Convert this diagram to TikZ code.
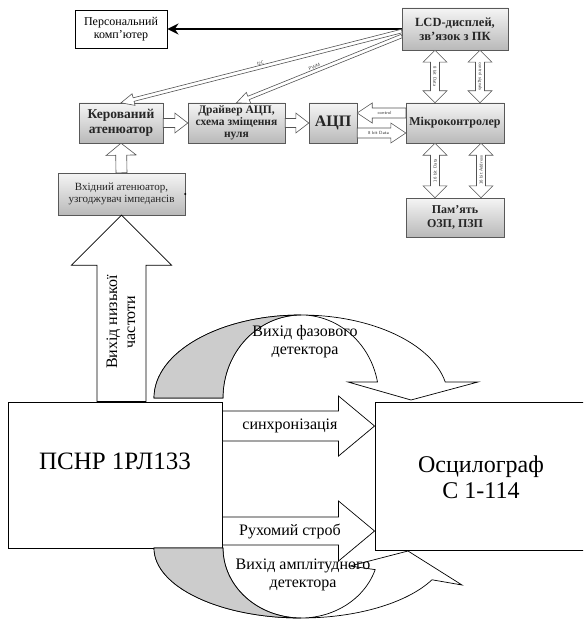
\documentclass[tikz,border=0pt]{standalone}
\usepackage{fontspec}
\setmainfont{Liberation Serif}
\usetikzlibrary{calc, arrows.meta}
\tikzset{
  blok/.style={draw=gray!70!black, top color=gray!8, bottom color=gray!55,
    align=center, inner sep=0pt, text=black!85, font=\bfseries},
  wblok/.style={draw, fill=white, align=center, inner sep=0pt, line width=0.9pt},
  hol/.style={draw=gray!65!black, fill=white, line width=0.6pt},
  bighol/.style={draw, fill=white, line width=0.7pt},
  curv/.style={draw, fill=white, line width=0.7pt},
  tinylbl/.style={font=\fontsize{4.5}{5}\selectfont\sffamily, inner sep=0pt, text=black!80},
  biglbl/.style={font=\fontsize{16}{18}\selectfont, inner sep=0pt, align=center},
}
% hollow arrow: [style]{from}{to}{shaft half width}{head half width}{head length}
\newcommand{\hollowarrow}[6][]{%
  \coordinate (hb) at ($(#3)!#6!(#2)$);
  \draw[#1] ($(#2)!#4!90:(#3)$) -- ($(hb)!#4!90:(#3)$) -- ($(hb)!#5!90:(#3)$) -- (#3)
    -- ($(hb)!#5!-90:(#3)$) -- ($(hb)!#4!-90:(#3)$) -- ($(#2)!#4!-90:(#3)$) -- cycle;}
% same, with a head at both ends
\newcommand{\hollowbiarrow}[6][]{%
  \coordinate (ha) at ($(#2)!#6!(#3)$);
  \coordinate (hb) at ($(#3)!#6!(#2)$);
  \draw[#1] (#2) -- ($(ha)!#5!90:(#3)$) -- ($(ha)!#4!90:(#3)$) -- ($(hb)!#4!90:(#3)$)
    -- ($(hb)!#5!90:(#3)$) -- (#3) -- ($(hb)!#5!-90:(#3)$) -- ($(hb)!#4!-90:(#3)$)
    -- ($(ha)!#4!-90:(#3)$) -- ($(ha)!#5!-90:(#3)$) -- cycle;}

\begin{document}
\begin{tikzpicture}[x=1pt, y=-1pt]
    \useasboundingbox (0,0) rectangle (583,623);
    \clip (0,0) rectangle (583,623);

    % Upper block diagram
    \node[wblok, minimum width=92pt, minimum height=38pt, font=\fontsize{12}{13}\selectfont] (pc) at (121,29) {Персональний\\комп'ютер};
    \node[blok, minimum width=106pt, minimum height=42pt, font=\bfseries\fontsize{12.5}{14}\selectfont] (lcd) at (455,29) {LCD-дисплей,\\зв'язок з ПК};
    \node[blok, minimum width=84pt, minimum height=40pt, font=\bfseries\fontsize{13.5}{15}\selectfont] (ker) at (121,123) {Керований\\атенюатор};
    \node[blok, minimum width=97pt, minimum height=40pt, font=\bfseries\fontsize{11.5}{11.8}\selectfont] (drv) at (236.5,123) {Драйвер АЦП,\\схема зміщення\\нуля};
    \node[blok, minimum width=48pt, minimum height=40pt, font=\bfseries\fontsize{16}{18}\selectfont] (adc) at (333,123) {АЦП};
    \node[blok, minimum width=98pt, minimum height=40pt, font=\bfseries\fontsize{12}{13}\selectfont] (mcu) at (455,123) {Мікроконтролер};
    \node[blok, minimum width=98pt, minimum height=39pt, font=\bfseries\fontsize{12}{13.5}\selectfont] (mem) at (455,217.5) {Пам'ять\\ОЗП, ПЗП};
    \node[blok, minimum width=127pt, minimum height=42pt, font=\fontsize{11}{12}\selectfont] (inp) at (121.5,194) {Вхідний атенюатор,\\узгоджувач імпедансів};
    \fill (inp.east) circle[radius=1.1pt];

    % PC link
    \draw[line width=2.6pt, -{Stealth[length=11pt, width=11pt]}] (lcd.west) -- (pc.east);

    % I2C and PWM lines
    \coordinate (i2cs) at ([yshift=-2pt]lcd.west);
    \coordinate (pwms) at ([yshift=-7pt]lcd.west);
    \hollowarrow[hol]{i2cs}{ker.north}{1.8pt}{6pt}{13pt}
    \hollowarrow[hol]{pwms}{drv.north}{1.8pt}{6pt}{13pt}
    \node[tinylbl, rotate=14.3, yshift=4pt] (i2c) at ($(i2cs)!0.5!(ker.north)$) {I2C};
    \node[tinylbl, rotate=21.9, yshift=4pt] (pwm) at ($(pwms)!0.52!(drv.north)$) {PWM};

    % Signal path
    \hollowarrow[hol]{ker.east}{drv.west}{4.5pt}{10pt}{13pt}
    \hollowarrow[hol]{drv.east}{adc.west}{4.5pt}{10pt}{13pt}
    \hollowarrow[hol]{inp.north}{ker.south}{5.5pt}{15pt}{12pt}
    \coordinate (ctls) at ([yshift=10pt]mcu.west);
    \coordinate (dats) at ([yshift=-10pt]adc.east);
    \hollowarrow[hol]{ctls}{ctls -| adc.east}{5pt}{10pt}{15pt}
    \hollowarrow[hol]{dats}{dats -| mcu.west}{5pt}{10pt}{15pt}
    \node[tinylbl] (ctl) at ($(ctls)!0.5!(ctls -| adc.east)+(3,0)$) {control};
    \node[tinylbl] (dat) at ($(dats)!0.5!(dats -| mcu.west)+(-3,0)$) {8 bit Data};

    % Buses
    \coordinate (b1) at ([xshift=-20pt]lcd.south);
    \coordinate (b2) at ([xshift=25pt]lcd.south);
    \coordinate (b3) at ([xshift=-20pt]mcu.south);
    \coordinate (b4) at ([xshift=26pt]mcu.south);
    \hollowbiarrow[hol]{b1}{b1 |- mcu.north}{4.5pt}{12pt}{12pt}
    \hollowbiarrow[hol]{b2}{b2 |- mcu.north}{4.5pt}{12pt}{12pt}
    \hollowbiarrow[hol]{b3}{b3 |- mem.north}{4.5pt}{12pt}{12pt}
    \hollowbiarrow[hol]{b4}{b4 |- mem.north}{4.5pt}{12pt}{12pt}
    \node[tinylbl, rotate=-90] (bl1) at ($(b1)!0.5!(b1 |- mcu.north)$) {8 bit Data};
    \node[tinylbl, rotate=-90] (bl2) at ($(b2)!0.5!(b2 |- mcu.north)$) {control signals};
    \node[tinylbl, rotate=90] (bl3) at ($(b3)!0.5!(b3 |- mem.north)$) {16 bit Data};
    \node[tinylbl, rotate=90] (bl4) at ($(b4)!0.5!(b4 |- mem.north)$) {16 bit Address};

    % Lower diagram
    \node[wblok, minimum width=214pt, minimum height=146pt] (psnr) at (115,475) {};
    \node[wblok, minimum width=210pt, minimum height=148pt] (osc) at (480,476) {};
    \node[inner sep=0pt, font=\fontsize{25}{26}\selectfont] (psnrt) at (115,461) {ПСНР 1РЛ133};
    \node[inner sep=0pt, align=center, font=\fontsize{24}{26}\selectfont] (osct) at (481,477) {Осцилограф\\С 1-114};

    \hollowarrow[bighol]{inp.south |- psnr.north}{inp.south}{24.5pt}{50pt}{50pt}
    \node[biglbl, rotate=90] (lf) at (121,322) {Вихід  низької\\частоти};

    \coordinate (s1) at ([yshift=49pt]psnr.east);
    \coordinate (s2) at ([yshift=-56pt]psnr.east);
    \hollowarrow[bighol]{s1}{s1 -| osc.west}{15pt}{30pt}{36pt}
    \hollowarrow[bighol]{s2}{s2 -| osc.west}{14pt}{30pt}{36pt}
    \node[biglbl] (sync) at (290,426) {синхронізація};
    \node[biglbl] (strob) at (290,531) {Рухомий строб};

    % Phase detector output
    \filldraw[curv] (154,398) arc[start angle=180, end angle=11.1, x radius=147pt, y radius=83pt]
      -- (478,382) -- (411,400) -- (348,382) -- (377.5,382)
      arc[start angle=11.1, end angle=180, x radius=78pt, y radius=83pt] -- cycle;
    \filldraw[curv, fill=gray!40] (154,398) arc[start angle=180, end angle=90, x radius=147pt, y radius=83pt]
      arc[start angle=90, end angle=180, x radius=78pt, y radius=83pt] -- cycle;
    \node[biglbl] (ph) at (305,342) {Вихід фазового\\детектора};

    % Amplitude detector output
    \filldraw[curv] (154,548) arc[start angle=180, end angle=333, x radius=147pt, y radius=70pt]
      -- (462,585) -- (408,551) -- (350,566) -- (375.2,569.6)
      arc[start angle=-18, end angle=-180, x radius=78pt, y radius=70pt] -- cycle;
    \filldraw[curv, fill=gray!40] (154,548) arc[start angle=180, end angle=270, x radius=147pt, y radius=70pt]
      arc[start angle=270, end angle=180, x radius=78pt, y radius=70pt] -- cycle;
    \node[biglbl] (am) at (303,575) {Вихід амплітудного\\детектора};
\end{tikzpicture}
\end{document}
